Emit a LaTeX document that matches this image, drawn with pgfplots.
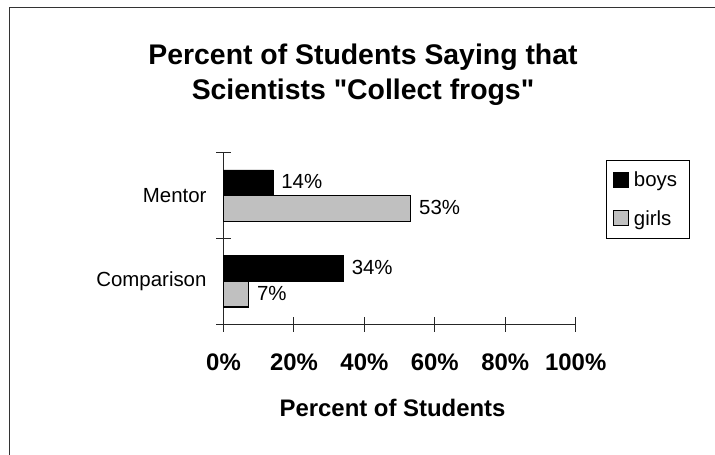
\documentclass[border=0pt]{standalone}
\usepackage{fontspec}
\setmainfont{Liberation Sans}
\usepackage{pgfplots}
\pgfplotsset{compat=1.18}
\definecolor{girlgray}{HTML}{C0C0C0}
\begin{document}
\begin{tikzpicture}[x=1bp,y=1bp]
\path[use as bounding box] (0,0) rectangle (715,455);
\draw[line width=1bp, black!80] (9.5,-2) -- (9.5,447.5) -- (717,447.5);
\node[font=\fontsize{28.5}{35}\selectfont\bfseries, align=center] at (363,380) {Percent of Students Saying that\\Scientists \textquotedbl Collect frogs\textquotedbl};
\begin{axis}[
  at={(223.5bp,130.7bp)}, anchor=south west,
  scale only axis, width=352.2bp, height=171.6bp,
  xbar, y dir=reverse,
  xmin=0, xmax=100, ymin=-0.5, ymax=1.5,
  axis x line*=bottom, axis y line*=left,
  axis line style={-, line width=1bp, black!85},
  xtick={0,20,...,100},
  xticklabels={0\%,20\%,40\%,60\%,80\%,100\%},
  ytick={0,1}, yticklabels={Mentor,Comparison},
  minor ytick={-0.5,0.5,1.5},
  tick align=center,
  major tick length=15bp, minor tick length=15bp,
  major y tick style={draw=none},
  every tick/.style={line width=1bp, black!85},
  minor y tick style={line width=1bp, black!85},
  xticklabel style={font=\fontsize{24}{28}\selectfont\bfseries, anchor=center, yshift=-30bp},
  yticklabel style={font=\fontsize{20.5}{24}\selectfont, anchor=east, xshift=-6bp},
  xlabel={Percent of Students},
  xlabel style={font=\fontsize{24}{28}\selectfont\bfseries, at={(axis description cs:0.48,-0.485)}, anchor=center},
  /pgf/number format/assume math mode=true,
  bar width=0.3,
  point meta=x,
  nodes near coords={\pgfmathprintnumber{\pgfplotspointmeta}\%},
  every node near coord/.append style={font=\fontsize{20.5}{24}\selectfont, anchor=west, text=black, xshift=5bp, yshift=1bp},
  legend style={at={(1.086,0.96)}, anchor=north west, draw=black, line width=1bp,
    font=\fontsize{20.5}{24}\selectfont, inner xsep=6bp, inner ysep=10bp, row sep=18bp},
  legend cell align=left,
  legend image code/.code={\draw[#1, line width=1bp] (0bp,-7.5bp) rectangle (15bp,7.5bp); \path[draw=none, fill=none] (0bp,0bp) -- (19bp,0bp);},
  clip=false,
]
\addplot[fill=black, draw=black, bar shift=-0.15] coordinates {(14,0) (34,1)};
\addlegendentry{boys\hspace*{4bp}}
\addplot[fill=girlgray, draw=black, line width=1.3bp, bar shift=0.15] coordinates {(53,0) (7,1)};
\addlegendentry{girls\hspace*{4bp}}
\end{axis}
\end{tikzpicture}
\end{document}
